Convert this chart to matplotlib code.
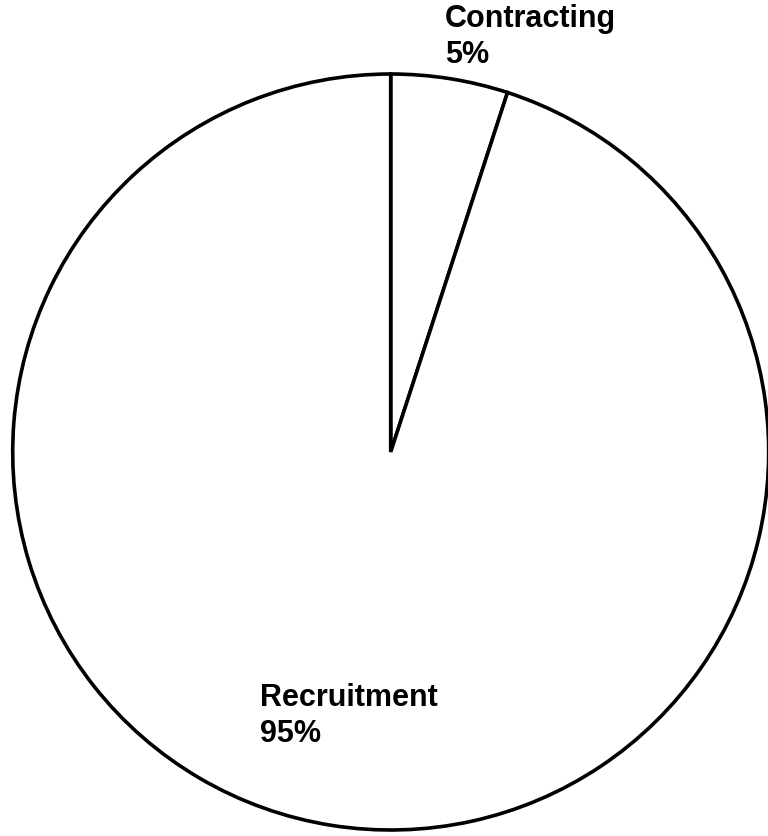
import matplotlib
matplotlib.use("Agg")
import matplotlib.pyplot as plt

categories = ["Contracting", "Recruitment"]
shares = [5, 95]

plt.rcParams['font.family'] = ['Liberation Sans', 'DejaVu Sans']

W, H = 768, 836
fig = plt.figure(figsize=(W / 100, H / 100), dpi=100)
cx, cy, r = 390.7, 452.0, 378.0
ax = fig.add_axes([(cx - r) / W, (H - cy - r) / H, 2 * r / W, 2 * r / H])
ax.pie(shares, startangle=90, counterclock=False, radius=1.0,
       wedgeprops=dict(facecolor='white', edgecolor='black', linewidth=2.6))
ax.set_xlim(-1, 1)
ax.set_ylim(-1, 1)
ax.set_aspect('equal')
ax.axis('off')

# label positions (pixel of left edge and last-line baseline -> data)
label_pos = {
    "Contracting": (445, 63),
    "Recruitment": (260, 742),
}
for cat, val in zip(categories, shares):
    px, py = label_pos[cat]
    x = (px - cx) / r
    y = (cy - py) / r
    ax.text(x, y, f"{cat}\n{val}%", ha='left', va='baseline', fontsize=22,
            fontweight='bold', color='black', clip_on=False, linespacing=1.25)

fig.savefig("out.png", dpi=100, facecolor='white')
